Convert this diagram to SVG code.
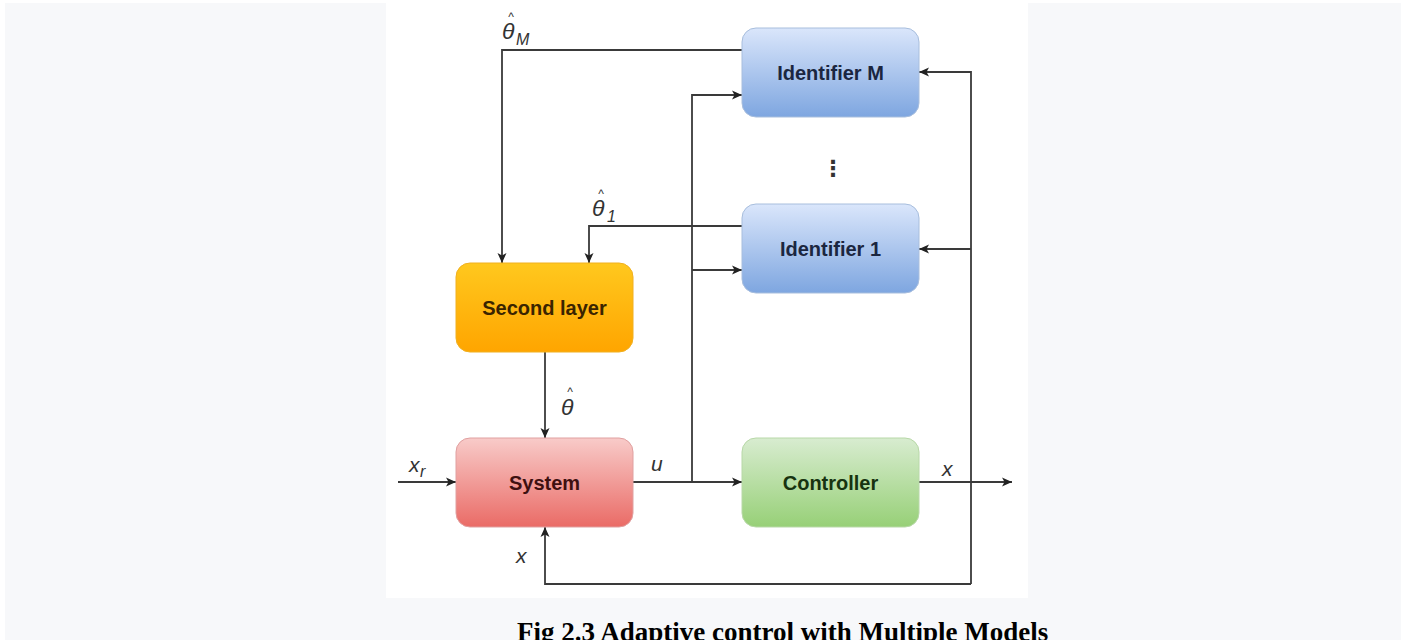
<svg xmlns="http://www.w3.org/2000/svg" width="1407" height="640" viewBox="0 0 1407 640">
  <defs>
    <linearGradient id="gBlue" x1="0" y1="0" x2="0" y2="1">
      <stop offset="0" stop-color="#dae6fb"/>
      <stop offset="1" stop-color="#7ea6e0"/>
    </linearGradient>
    <linearGradient id="gOrange" x1="0" y1="0" x2="0" y2="1">
      <stop offset="0" stop-color="#ffc81e"/>
      <stop offset="1" stop-color="#ffa500"/>
    </linearGradient>
    <linearGradient id="gRed" x1="0" y1="0" x2="0" y2="1">
      <stop offset="0" stop-color="#f8cbc9"/>
      <stop offset="1" stop-color="#ea6b66"/>
    </linearGradient>
    <linearGradient id="gGreen" x1="0" y1="0" x2="0" y2="1">
      <stop offset="0" stop-color="#d8ecd0"/>
      <stop offset="1" stop-color="#97d077"/>
    </linearGradient>
    <marker id="arrow" viewBox="0 0 10 10" refX="10" refY="5" markerWidth="10" markerHeight="10" markerUnits="userSpaceOnUse" orient="auto">
      <path d="M0,0.5 L10,5 L0,9.5 L2.5,5 Z" fill="#222"/>
    </marker>
    <style>
      .node { stroke-width: 1; }
      .lbl { font-family: "Liberation Sans", Arial, sans-serif; font-weight: bold; font-size: 20px; text-anchor: middle; }
      .sym { font-family: "Liberation Sans", Arial, sans-serif; font-style: italic; font-size: 21px; fill: #333; }
      .theta { font-family: "Liberation Sans", Arial, sans-serif; font-style: italic; font-size: 23px; fill: #333; }
      .sub { font-family: "Liberation Sans", Arial, sans-serif; font-style: italic; font-size: 16px; fill: #333; }
      .hat { font-style: normal; font-size: 12px; }
      .wire { fill: none; stroke: #3a3a3a; stroke-width: 1.8; }
      .caption { font-family: "Liberation Serif", "Times New Roman", serif; font-weight: bold; font-size: 27px; fill: #000; }
    </style>
  </defs>

  <!-- page background -->
  <rect x="0" y="0" width="1407" height="640" fill="#ffffff"/>
  <rect x="5" y="3" width="1396" height="637" fill="#f7f8fa"/>
  <rect x="386" y="0" width="642" height="598" fill="#ffffff"/>

  <!-- connectors -->
  <g id="connectors">
    <path class="wire" d="M742,50 H502 V263" marker-end="url(#arrow)"/>
    <path class="wire" d="M742,226 H589 V263" marker-end="url(#arrow)"/>
    <path class="wire" d="M545,352 V438" marker-end="url(#arrow)"/>
    <path class="wire" d="M398,482 H456" marker-end="url(#arrow)"/>
    <path class="wire" d="M633,482 H742" marker-end="url(#arrow)"/>
    <path class="wire" d="M692,482 V95 H742" marker-end="url(#arrow)"/>
    <path class="wire" d="M692,270 H742" marker-end="url(#arrow)"/>
    <path class="wire" d="M919,482 H1012" marker-end="url(#arrow)"/>
    <path class="wire" d="M971,584 V72 H919" marker-end="url(#arrow)"/>
    <path class="wire" d="M971,249 H919" marker-end="url(#arrow)"/>
    <path class="wire" d="M971,584 H545 V527" marker-end="url(#arrow)"/>
  </g>

  <!-- signal labels: theta estimates carry a hat accent above -->
  <g id="signal-labels">
    <text class="theta" x="502" y="39">θ<tspan class="hat" x="508.2" y="21">^</tspan><tspan class="sub" x="516" y="45">M</tspan></text>
    <text class="theta" x="592" y="216">θ<tspan class="hat" x="598.2" y="198">^</tspan><tspan class="sub" x="607" y="222">1</tspan></text>
    <text class="theta" x="561" y="415">θ<tspan class="hat" x="567.2" y="396">^</tspan></text>

    <text class="sym" x="409" y="472">x<tspan class="sub" x="420" y="477">r</tspan></text>
    <text class="sym" x="651" y="471">u</text>
    <text class="sym" x="516" y="563">x</text>
    <text class="sym" x="942" y="476">x</text>

    <text x="833" y="176" font-family="DejaVu Sans, sans-serif" font-size="22" font-weight="bold" fill="#333" text-anchor="middle">⋮</text>
  </g>

  <!-- nodes -->
  <g id="identifier-m">
    <rect class="node" x="742" y="28" width="177" height="89" rx="14" fill="url(#gBlue)" stroke="#a8bedd"/>
    <text class="lbl" x="830.5" y="80" fill="#1b2640">Identifier M</text>
  </g>
  <g id="identifier-1">
    <rect class="node" x="742" y="204" width="177" height="89" rx="14" fill="url(#gBlue)" stroke="#a8bedd"/>
    <text class="lbl" x="830.5" y="256" fill="#1b2640">Identifier 1</text>
  </g>
  <g id="second-layer">
    <rect class="node" x="456" y="263" width="177" height="89" rx="14" fill="url(#gOrange)" stroke="#f0b020"/>
    <text class="lbl" x="544.5" y="315" fill="#3a2400">Second layer</text>
  </g>
  <g id="system">
    <rect class="node" x="456" y="438" width="177" height="89" rx="14" fill="url(#gRed)" stroke="#e0a0a0"/>
    <text class="lbl" x="544.5" y="490" fill="#3e1010">System</text>
  </g>
  <g id="controller">
    <rect class="node" x="742" y="438" width="177" height="89" rx="14" fill="url(#gGreen)" stroke="#b8d8a8"/>
    <text class="lbl" x="830.5" y="490" fill="#173310">Controller</text>
  </g>

  <!-- figure caption -->
  <text class="caption" x="517" y="641">Fig 2.3 Adaptive control with Multiple Models</text>
</svg>
